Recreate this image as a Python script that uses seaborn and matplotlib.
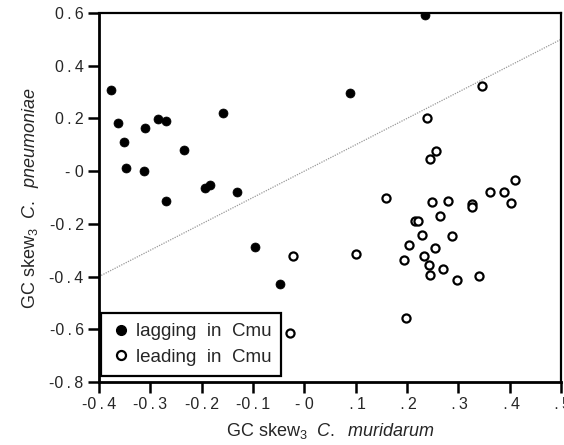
import pandas as pd
import matplotlib
matplotlib.use("Agg")
import matplotlib.pyplot as plt
import seaborn as sns
from matplotlib.lines import Line2D

# 데이터
lag_x = [-0.377, -0.362, -0.351, -0.348, -0.310, -0.313, -0.286, -0.269, -0.269,
         -0.234, -0.158, -0.193, -0.183, -0.132, 0.236, 0.089, -0.097, -0.047]
lag_y = [0.309, 0.183, 0.109, 0.013, 0.165, 0.000, 0.196, 0.190, -0.115,
         0.080, 0.219, -0.064, -0.051, -0.080, 0.592, 0.298, -0.286, -0.429]

lead_x = [0.346, 0.239, 0.256, 0.245, 0.159, 0.248, 0.280, 0.326, 0.326, 0.361,
          0.388, 0.411, 0.403, 0.265, 0.215, 0.222, 0.230, 0.288, 0.204, 0.254,
          0.233, 0.194, 0.242, 0.271, 0.245, 0.298, 0.341, 0.198, -0.022, 0.101,
          -0.027]
lead_y = [0.322, 0.201, 0.076, 0.047, -0.102, -0.118, -0.113, -0.123, -0.136, -0.079,
          -0.079, -0.033, -0.120, -0.172, -0.190, -0.190, -0.242, -0.247, -0.281, -0.293,
          -0.321, -0.338, -0.355, -0.373, -0.394, -0.413, -0.396, -0.557, -0.321, -0.316,
          -0.613]

x_ticks = [-0.4, -0.3, -0.2, -0.1, 0.0, 0.1, 0.2, 0.3, 0.4, 0.5]
x_ticklabels = ["-0.4", "-0.3", "-0.2", "-0.1", "- 0", ".1", ".2", ".3", ".4", ".5"]
y_ticks = [-0.8, -0.6, -0.4, -0.2, 0.0, 0.2, 0.4, 0.6]
y_ticklabels = ["-0.8", "-0.6", "-0.4", "-0.2", "- 0", "0.2", "0.4", "0.6"]

lag_df = pd.DataFrame({"cmu": lag_x, "cpn": lag_y})
lead_df = pd.DataFrame({"cmu": lead_x, "cpn": lead_y})


# 소수점 양옆만 살짝 띄우기 (원본처럼)
def spaced(label):
    return label.replace(".", "\u2009.\u2009")


# 스타일 설정
sns.set_style("white")
plt.rcParams["font.family"] = ["Liberation Sans", "DejaVu Sans"]
plt.rcParams["mathtext.fontset"] = "custom"
plt.rcParams["mathtext.rm"] = "Liberation Sans"
plt.rcParams["mathtext.it"] = "Liberation Sans:italic"

fig = plt.figure(figsize=(5.64, 4.45), dpi=100)
ax = fig.add_axes([0.1755, 0.1416, 0.8192, 0.8292])

# y = x 기준선
ax.axline((0, 0), slope=1, color="#999999", linestyle=(0, (1, 1)), linewidth=0.9, zorder=1)

sns.scatterplot(data=lag_df, x="cmu", y="cpn", ax=ax, s=42, color="black",
                edgecolor="black", linewidth=0.5, zorder=3)
sns.scatterplot(data=lead_df, x="cmu", y="cpn", ax=ax, s=34, facecolor="white",
                edgecolor="black", linewidth=1.6, zorder=3)

ax.set_xlim(-0.4, 0.5)
ax.set_ylim(-0.8, 0.6)
ax.set_xticks(x_ticks)
ax.set_xticklabels([spaced(t) for t in x_ticklabels])
ax.set_yticks(y_ticks)
ax.set_yticklabels([spaced(t) for t in y_ticklabels])
ax.tick_params(direction="out", length=8, width=1.8, labelsize=11.5, color="black",
               left=True, bottom=True, pad=3)

for side in ["left", "bottom", "top", "right"]:
    ax.spines[side].set_color("black")
    ax.spines[side].set_linewidth(1.6)
ax.spines["left"].set_linewidth(2.0)
ax.spines["bottom"].set_linewidth(2.0)

ax.set_xlabel(r"GC skew$_3$  $\it{C.}$  $\it{muridarum}$", fontsize=13, labelpad=6)
ax.set_ylabel(r"GC skew$_3$  $\it{C.}$  $\it{pneumoniae}$", fontsize=13, labelpad=6)

handles = [
    Line2D([], [], marker="o", linestyle="none", markersize=7, markerfacecolor="black",
           markeredgecolor="black"),
    Line2D([], [], marker="o", linestyle="none", markersize=6.5, markerfacecolor="white",
           markeredgecolor="black", markeredgewidth=1.6),
]
leg = ax.legend(handles, ["lagging  in  Cmu", "leading  in  Cmu"], loc="lower left",
                bbox_to_anchor=(0.004, 0.016), borderaxespad=0, fontsize=13.5,
                frameon=True, fancybox=False, framealpha=1, edgecolor="black",
                handletextpad=0.3, handlelength=1.0, borderpad=0.55, labelspacing=0.45)
leg.get_frame().set_linewidth(1.6)

fig.savefig("out.png", dpi=100)
